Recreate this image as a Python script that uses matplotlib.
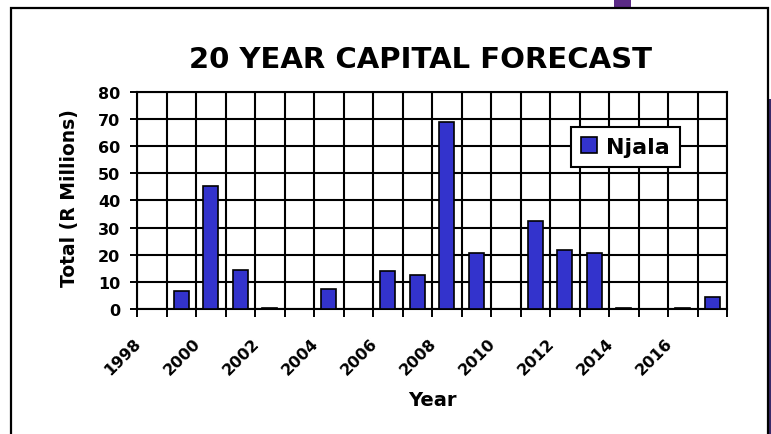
import matplotlib
matplotlib.use("Agg")
import matplotlib.pyplot as plt
from matplotlib.patches import Rectangle
import matplotlib.transforms as mtransforms

years = list(range(1998, 2018))
values = [0, 6.5, 45.3, 14.3, 0.3, 0, 7.3, 0, 13.9, 12.6,
          69.0, 20.6, 0, 32.4, 21.7, 20.7, 0.3, 0, 0.3, 4.3]
label_years = [str(y) for y in years[::2]]
yticks = [0, 10, 20, 30, 40, 50, 60, 70, 80]
series_name = "Njala"
title = "20 YEAR CAPITAL FORECAST"

plt.rcParams['font.family'] = ['DejaVu Sans']
plt.rcParams['font.weight'] = 'bold'

W, H = 771, 435
fig = plt.figure(figsize=(W / 100, H / 100), dpi=100)
fig.patch.set_facecolor('white')

# background decorations
fig.patches.append(Rectangle((614 / W, 1 - 8 / H), 17 / W, 8 / H, transform=fig.transFigure,
                             facecolor='#5b2a86', edgecolor='none', zorder=0))
fig.patches.append(Rectangle((769 / W, 0), 2 / W, 1 - 100 / H, transform=fig.transFigure,
                             facecolor='#3a2a6a', edgecolor='none', zorder=0))
# outer chart box
fig.patches.append(Rectangle((11 / W, -0.05), (768 - 11) / W, 1 - 9 / H + 0.05,
                             transform=fig.transFigure, facecolor='white',
                             edgecolor='black', linewidth=1.6, zorder=1))

L, R, T, B = 137, 727, 92.7, 310
ax = fig.add_axes([L / W, 1 - B / H, (R - L) / W, (B - T) / H])
ax.set_zorder(2)
ax.set_facecolor('white')

n = len(years)
pos = list(range(n))
ax.bar(pos, values, width=0.5, color='#3333CC', edgecolor='black', linewidth=1.2,
       zorder=3, label=series_name)

ax.set_xlim(-0.5, n - 0.5)
ax.set_ylim(0, 80)
ax.set_yticks(yticks)
ax.set_yticklabels([str(v) for v in yticks], fontsize=11.5, fontweight='bold')
ax.tick_params(axis='y', length=5, width=1.4, pad=7, color='black')

bounds = [i - 0.5 for i in range(n + 1)]
ax.set_xticks(bounds)
ax.set_xticklabels([])
ax.tick_params(axis='x', length=6, width=1.4, color='black')

for yv in yticks:
    ax.axhline(yv, color='black', linewidth=1.5, zorder=1)
for xb in bounds:
    ax.axvline(xb, color='black', linewidth=1.5, zorder=1)

for s in ax.spines.values():
    s.set_color('black')
    s.set_linewidth(1.5)

# rotated category labels
offset = mtransforms.ScaledTranslation(-13 / 100, -31 / 100, fig.dpi_scale_trans)
trans = mtransforms.blended_transform_factory(ax.transData, ax.transAxes) + offset
for i, lab in zip(pos[::2], label_years):
    ax.text(i, 0, lab, transform=trans, rotation=45, ha='right', va='center',
            rotation_mode='anchor', fontsize=11.5, fontweight='bold', clip_on=False)

fig.text(432.5 / W, 1 - 406 / H, "Year", ha='center', va='baseline',
         fontsize=14, fontweight='bold')
fig.text(69.5 / W, 1 - 198 / H, "Total (R Millions)", ha='center', va='center',
         rotation=90, fontsize=13.5, fontweight='bold')
fig.text(420.5 / W, 1 - 68.3 / H, title, ha='center', va='baseline',
         fontsize=21, fontweight='bold')

leg = ax.legend(loc='upper left', bbox_to_anchor=(571 / W, 1 - 127.7 / H),
                bbox_transform=fig.transFigure, borderaxespad=0, fancybox=False,
                framealpha=1, edgecolor='black', prop={'size': 16, 'weight': 'bold'},
                handlelength=0.72, handleheight=0.72, handletextpad=0.4,
                borderpad=0.45)
leg.get_frame().set_linewidth(1.5)

fig.savefig('out.png', dpi=100, facecolor='white')
